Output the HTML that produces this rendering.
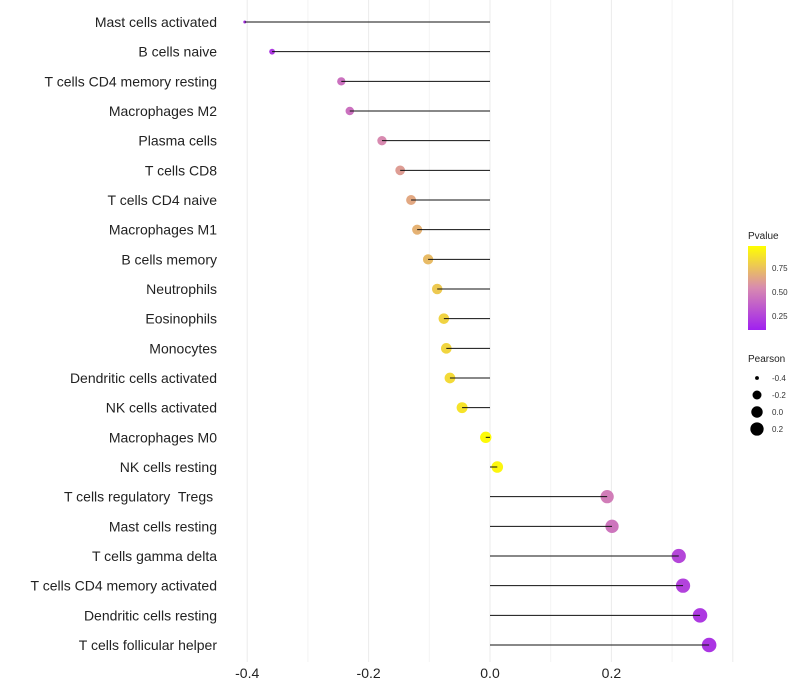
<!DOCTYPE html>
<html><head><meta charset="utf-8"><style>
body{margin:0;background:#fff;}
svg{display:block;font-family:"Liberation Sans",sans-serif;}
text{white-space:pre;}
</style></head><body>
<svg id="chart" width="800" height="700">
<defs><linearGradient id="pgrad" x1="0" y1="1" x2="0" y2="0">
<stop offset="0" stop-color="#a020f0"/><stop offset="0.5" stop-color="#d88ab0"/><stop offset="1" stop-color="#ffff00"/></linearGradient></defs>
<g id="grid"></g><g id="marks"></g><g id="labels"></g>
<g>
<text x="748" y="239" font-size="10" fill="#222">Pvalue</text>
<rect x="748" y="246" width="18" height="84" fill="url(#pgrad)"/>
<text x="772" y="271" font-size="8" fill="#333">0.75</text>
<text x="772" y="295" font-size="8" fill="#333">0.50</text>
<text x="772" y="319" font-size="8" fill="#333">0.25</text>
</g>
<g id="sizeLegend">
<text x="748" y="362" font-size="10" fill="#222">Pearson</text>
</g>
</svg>
<script>
const categories=["Mast cells activated","B cells naive","T cells CD4 memory resting","Macrophages M2","Plasma cells","T cells CD8","T cells CD4 naive","Macrophages M1","B cells memory","Neutrophils","Eosinophils","Monocytes","Dendritic cells activated","NK cells activated","Macrophages M0","NK cells resting","T cells regulatory  Tregs ","Mast cells resting","T cells gamma delta","T cells CD4 memory activated","Dendritic cells resting","T cells follicular helper"];
const pearson=[-0.404,-0.359,-0.245,-0.231,-0.178,-0.148,-0.130,-0.120,-0.102,-0.087,-0.076,-0.072,-0.066,-0.046,-0.007,0.012,0.193,0.201,0.311,0.318,0.346,0.361];
const pvalue=[0.08,0.12,0.38,0.38,0.50,0.58,0.63,0.67,0.71,0.77,0.81,0.82,0.84,0.88,0.98,0.96,0.44,0.40,0.18,0.16,0.12,0.10];
const xTicks=[-0.4,-0.2,0.0,0.2];
const xTickLabels=["-0.4","-0.2","0.0","0.2"];
const sizeLegendVals=[-0.4,-0.2,0.0,0.2];
const sizeLegendLabels=["-0.4","-0.2","0.0","0.2"];

const NS="http://www.w3.org/2000/svg";
function x(v){return 490+v*607;}
function y(i){return 22+i*(623/21);}
const pmin=Math.min(...pearson),pmax=Math.max(...pearson);
function r(v){const t=Math.max(0,(v-pmin)/(pmax-pmin));return 1.5+5.8*Math.sqrt(t);}
function col(p){
  const a=[160,32,240],m=[216,138,176],b=[255,255,0];
  let c;
  if(p<0.5){const t=p/0.5;c=a.map((v,k)=>Math.round(v+(m[k]-v)*t));}
  else{const t=(p-0.5)/0.5;c=m.map((v,k)=>Math.round(v+(b[k]-v)*t));}
  return `rgb(${c[0]},${c[1]},${c[2]})`;
}
function mk(tag,at,parent){const e=document.createElementNS(NS,tag);for(const k in at)e.setAttribute(k,at[k]);parent.appendChild(e);return e;}
const grid=document.getElementById('grid'),marks=document.getElementById('marks'),labels=document.getElementById('labels');
for(let v=-0.5;v<=0.4001;v+=0.1){
  const gx=x(v);if(gx<228||gx>740)continue;
  const g=mk('line',{x1:gx,x2:gx,y1:0,y2:662,stroke:Math.abs(Math.round(v*10))%2===0?'#ebebeb':'#f4f4f4','stroke-width':1},grid);
  
  
}
xTicks.forEach((t,i)=>{
  const tx=mk('text',{x:x(t),y:678,'font-size':14,'text-anchor':'middle',fill:'#222'},labels);
  tx.textContent=xTickLabels[i];
  
  
});
categories.forEach((c,i)=>{
  const t=mk('text',{x:217,y:y(i)+5,'font-size':14,'text-anchor':'end',fill:'#222'},labels);
  t.textContent=c;
  
  
  const pt=mk('circle',{cx:x(pearson[i]),cy:y(i),r:r(pearson[i]),fill:col(pvalue[i])},marks);
  
  
  const ln=mk('line',{x1:x(0),x2:x(pearson[i]),y1:y(i),y2:y(i),stroke:'#111','stroke-width':1},marks);
  
  
});
const sl=document.getElementById('sizeLegend');
sizeLegendVals.forEach((v,i)=>{
  const cy=378+i*17;
  const c=mk('circle',{cx:757,cy:cy,r:r(v),fill:'#000'},sl);
  
  
  const t=mk('text',{x:772,y:cy+3,'font-size':8,fill:'#333'},sl);
  t.textContent=sizeLegendLabels[i];
  
  
});
</script>
</body></html>
